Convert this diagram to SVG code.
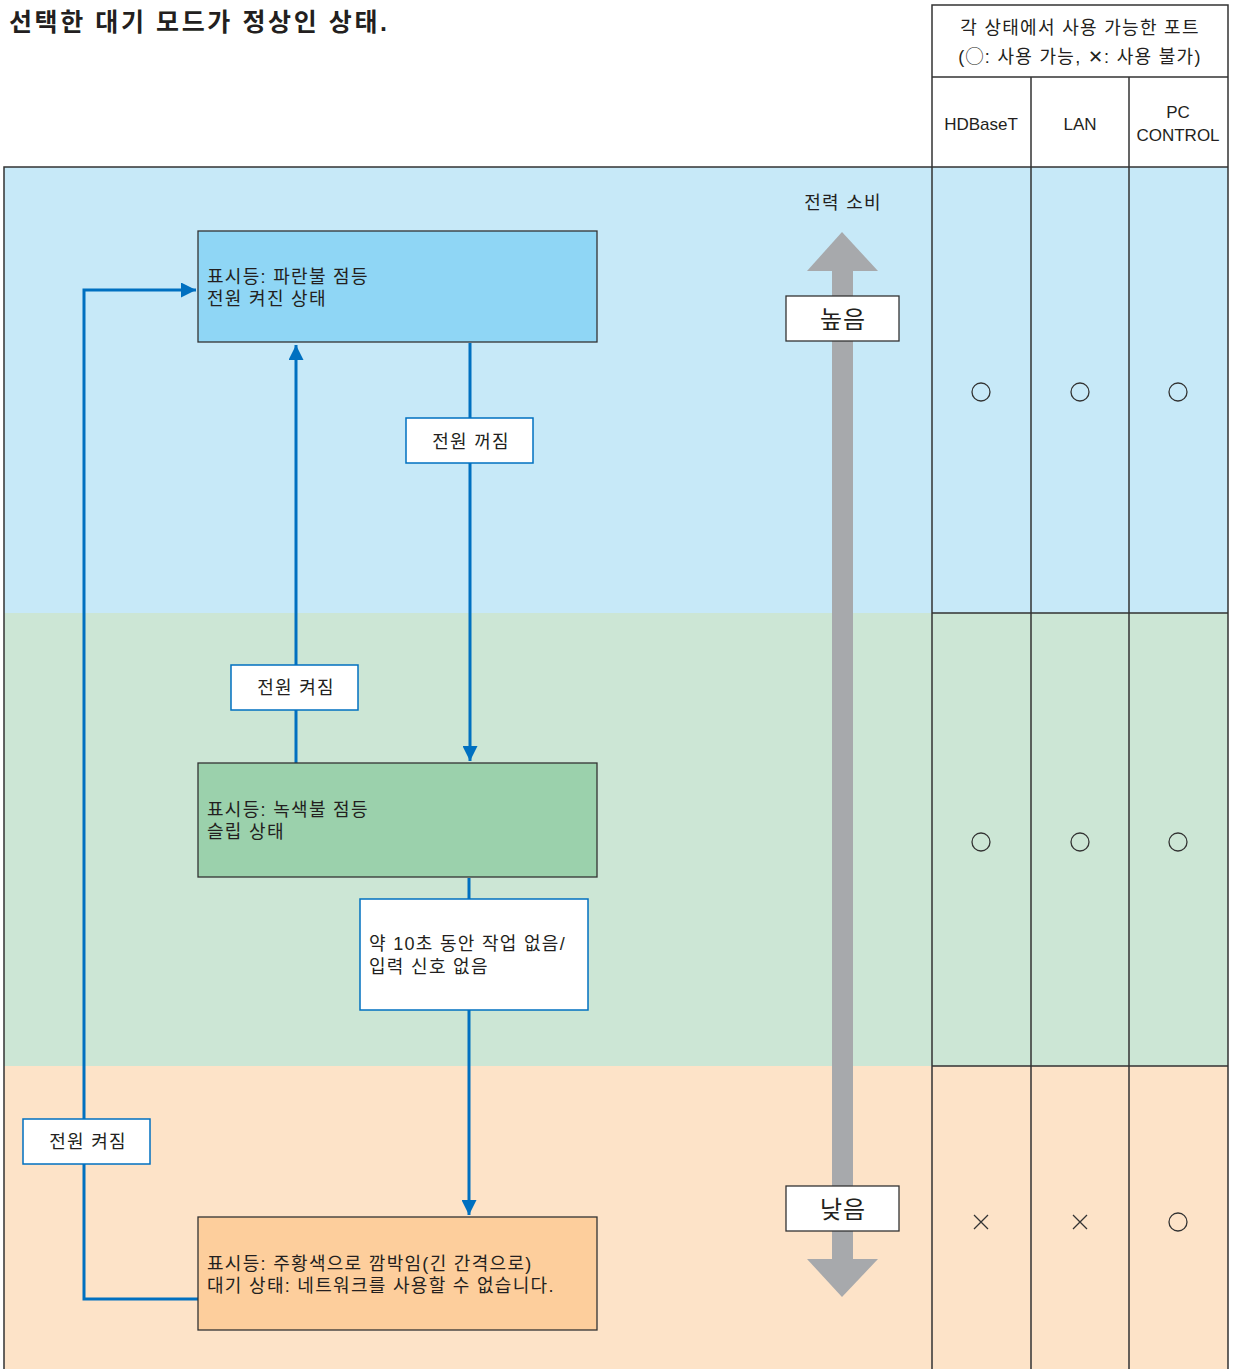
<svg xmlns="http://www.w3.org/2000/svg" width="1235" height="1369" viewBox="0 0 1235 1369">
<style>
text{font-family:"Liberation Sans","Noto Sans CJK KR",sans-serif;fill:#231f20}
.t17{font-size:18px;letter-spacing:1.3px}
.hd{font-size:18px;letter-spacing:1.3px;text-anchor:middle}
.lat{font-size:17px;text-anchor:middle}
.big{font-size:24px;letter-spacing:1px;text-anchor:middle}
.node{stroke:#333;stroke-width:1.3}
.lbl{fill:#fff;stroke:#0070c0;stroke-width:1.5}
.conn{fill:none;stroke:#0070c0;stroke-width:3}
.grid{stroke:#333;stroke-width:1.5;fill:none}
.sym{fill:none;stroke:#333;stroke-width:1.3}
</style>
<defs>
<marker id="ah" viewBox="0 0 10 10" refX="10" refY="5" markerWidth="5.5" markerHeight="5" markerUnits="strokeWidth" orient="auto">
<path d="M0,0 L10,5 L0,10 z" fill="#0070c0"/>
</marker>
</defs>
<rect width="1235" height="1369" fill="#fff"/>
<!-- bands -->
<rect x="4" y="167" width="1224" height="446" fill="#c7e9f8"/>
<rect x="4" y="613" width="1224" height="453" fill="#cce6d5"/>
<rect x="4" y="1066" width="1224" height="303" fill="#fde3c8"/>
<!-- title -->
<text x="9" y="31" style="font-size:25px;font-weight:bold;letter-spacing:2.6px">선택한 대기 모드가 정상인 상태.</text>
<!-- frame & table -->
<g id="table">
<path class="grid" d="M4,1369 V167 H932"/>
<path class="grid" d="M932,1369 V5 H1228 V1369 M932,77 H1228 M932,167 H1228 M932,613 H1228 M932,1066 H1228 M1031,77 V1369 M1129,77 V1369"/>
<text class="hd" x="1080" y="34">각 상태에서 사용 가능한 포트</text>
<text class="hd" x="1080" y="63">(◯: 사용 가능, ✕: 사용 불가)</text>
<text class="lat" x="981" y="130">HDBaseT</text>
<text class="lat" x="1080" y="130">LAN</text>
<text class="lat" x="1178" y="118">PC</text>
<text class="lat" x="1178" y="141">CONTROL</text>
<circle class="sym" cx="981" cy="392" r="9"/>
<circle class="sym" cx="1080" cy="392" r="9"/>
<circle class="sym" cx="1178" cy="392" r="9"/>
<circle class="sym" cx="981" cy="842" r="9"/>
<circle class="sym" cx="1080" cy="842" r="9"/>
<circle class="sym" cx="1178" cy="842" r="9"/>
<path class="sym" d="M974,1215 L988,1229 M988,1215 L974,1229"/>
<path class="sym" d="M1073,1215 L1087,1229 M1087,1215 L1073,1229"/>
<circle class="sym" cx="1178" cy="1222" r="9"/>
</g>
<!-- power arrow -->
<g id="power">
<rect x="832" y="268" width="21" height="994" fill="#a7a9ac"/>
<polygon points="807,271 842,232 878,271" fill="#a7a9ac"/>
<polygon points="807,1259 842,1297 878,1259" fill="#a7a9ac"/>
<text x="843" y="209" class="hd">전력 소비</text>
<rect x="786" y="296" width="113" height="45" fill="#fff" stroke="#333" stroke-width="1.3"/>
<text class="big" x="843" y="328">높음</text>
<rect x="786" y="1186" width="113" height="45" fill="#fff" stroke="#333" stroke-width="1.3"/>
<text class="big" x="843" y="1218">낮음</text>
</g>
<!-- connectors -->
<g id="connectors">
<path class="conn" d="M470,343 V761" marker-end="url(#ah)"/>
<path class="conn" d="M296,763 V345" marker-end="url(#ah)"/>
<path class="conn" d="M469,878 V1215" marker-end="url(#ah)"/>
<path class="conn" d="M198,1299 H84 V290 H196" marker-end="url(#ah)"/>
<rect class="lbl" x="406" y="418" width="127" height="45"/>
<text x="471" y="448" class="hd">전원 꺼짐</text>
<rect class="lbl" x="231" y="665" width="127" height="45"/>
<text x="296" y="694" class="hd">전원 켜짐</text>
<rect class="lbl" x="23" y="1119" width="127" height="45"/>
<text x="88" y="1148" class="hd">전원 켜짐</text>
<rect class="lbl" x="360" y="899" width="228" height="111"/>
<text x="369" y="950" class="t17">약 10초 동안 작업 없음/</text>
<text x="369" y="973" class="t17">입력 신호 없음</text>
</g>
<!-- nodes -->
<g id="node-on">
<rect class="node" x="198" y="231" width="399" height="111" fill="#8fd6f5"/>
<text x="207" y="283" class="t17">표시등: 파란불 점등</text>
<text x="207" y="305" class="t17">전원 켜진 상태</text>
</g>
<g id="node-sleep">
<rect class="node" x="198" y="763" width="399" height="114" fill="#9bd1ac"/>
<text x="207" y="816" class="t17">표시등: 녹색불 점등</text>
<text x="207" y="838" class="t17">슬립 상태</text>
</g>
<g id="node-standby">
<rect class="node" x="198" y="1217" width="399" height="113" fill="#fdce9c"/>
<text x="207" y="1270" class="t17">표시등: 주황색으로 깜박임(긴 간격으로)</text>
<text x="207" y="1292" class="t17">대기 상태: 네트워크를 사용할 수 없습니다.</text>
</g>
</svg>
